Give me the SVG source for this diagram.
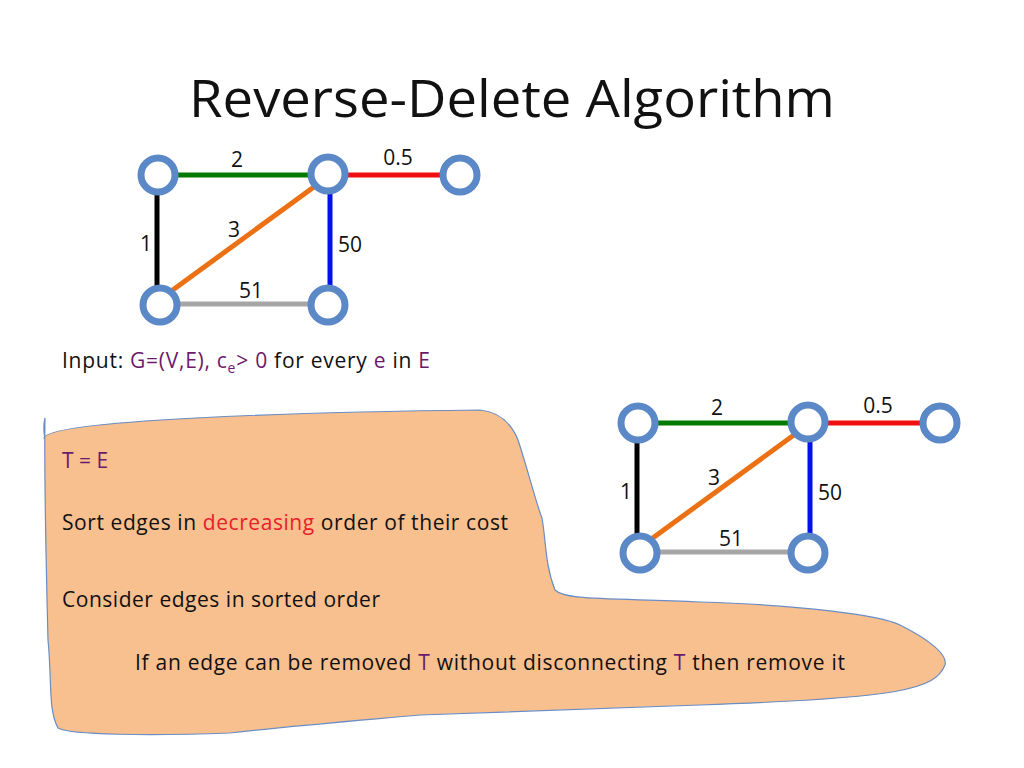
<svg xmlns="http://www.w3.org/2000/svg" width="1024" height="768" viewBox="0 0 1024 768">
<style>
.n{fill:none;stroke:#5b88c6;stroke-width:7}
.e{stroke-width:5;fill:none}
text{font-family:"Open Sans","Liberation Sans",sans-serif;font-size:21px;fill:#111}
.p{fill:#6b1a6b}
.r{fill:#e8202a}
</style>
<rect width="1024" height="768" fill="#fff"/>
<text x="512" y="117" text-anchor="middle" style="font-size:51px" textLength="646" lengthAdjust="spacingAndGlyphs">Reverse-Delete Algorithm</text>
<defs>
<g id="graph">
<g id="connectors">
<line class="e" x1="172" y1="175" x2="314" y2="175" stroke="#007a00"/>
<line class="e" x1="344" y1="175" x2="442" y2="175" stroke="#f01010"/>
<line class="e" x1="157" y1="191" x2="157" y2="289" stroke="#000"/>
<line class="e" x1="330" y1="189" x2="330" y2="287" stroke="#0010f0"/>
<line class="e" x1="174" y1="304" x2="314" y2="304" stroke="#a6a6a6"/>
<line class="e" x1="170" y1="292" x2="318" y2="184" stroke="#ec7014"/>
</g>
<g id="nodes">
<circle class="n" cx="158" cy="175" r="17"/>
<circle class="n" cx="328" cy="174" r="17"/>
<circle class="n" cx="460" cy="175" r="17"/>
<circle class="n" cx="160" cy="305" r="17"/>
<circle class="n" cx="328" cy="305" r="17"/>
</g>
<text x="237" y="167" text-anchor="middle">2</text>
<text x="398" y="165" text-anchor="middle">0.5</text>
<text x="146" y="251" text-anchor="middle">1</text>
<text x="234" y="237" text-anchor="middle">3</text>
<text x="350" y="252" text-anchor="middle">50</text>
<text x="251" y="298" text-anchor="middle">51</text>
</g>
</defs>
<use href="#graph"/>
<use href="#graph" transform="translate(480,248)"/>
<text x="62" y="368" textLength="368">Input: <tspan class="p">G=(V,E), c</tspan><tspan class="p" style="font-size:14px" dy="5">e</tspan><tspan class="p" dy="-5">&gt; 0</tspan> for every <tspan class="p">e</tspan> in <tspan class="p">E</tspan></text>
<g id="blob">
<path d="M45,418 C42,430 46,440 44,438 C48,420 300,412 480,410 C500,412 512,425 518,440 C528,470 535,500 542,518 C546,540 545,565 555,590 C565,600 600,598 700,602 C800,605 880,615 900,625 C930,640 948,655 945,665 C935,690 900,698 700,705 C600,708 500,712 420,715 C340,722 300,725 230,733 C150,736 70,735 58,728 C48,710 52,680 48,640 C46,560 44,480 45,418 Z" fill="#f8bf8f" stroke="#6a8dc4" stroke-width="1.2"/>
<text x="62" y="468" class="p">T = E</text>
<text x="62" y="530" textLength="446">Sort edges in <tspan class="r">decreasing</tspan> order of their cost</text>
<text x="62" y="607" textLength="318">Consider edges in sorted order</text>
<text x="135" y="670" textLength="710">If an edge can be removed <tspan class="p">T</tspan> without disconnecting <tspan class="p">T</tspan> then remove it</text>
</g>
</svg>
